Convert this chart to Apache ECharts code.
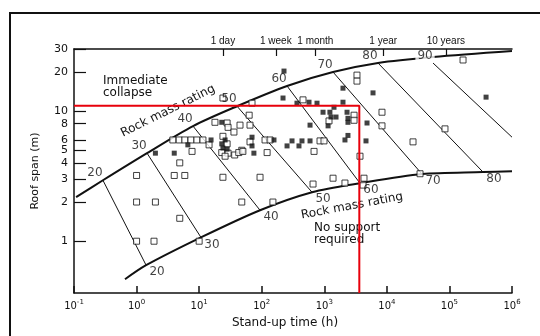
<!DOCTYPE html>
<html>
<head>
<meta charset="utf-8">
<script src="https://cdn.jsdelivr.net/npm/echarts@6/dist/echarts.min.js"></script>
<style>
  html, body { margin: 0; padding: 0; background: #fff; }
  #chart { width: 540px; height: 336px; }
</style>
</head>
<body>
<div id="chart"></div>
<script>
// all points are [stand-up time (h), roof span (m)]
const upperCurve = [[0.108, 2.18], [0.29, 2.94], [1.47, 4.75], [7.98, 7.67], [40.3, 10.9], [254, 15.6], [1380, 19.95], [7220, 23.4], [54700, 26.0], [1e6, 28.9]];
const lowerCurve = [[0.653, 0.51], [1.42, 0.654], [10.7, 1.07], [94, 1.73], [637, 2.38], [3720, 2.79], [36500, 3.28], [344000, 3.4], [1e6, 3.45]];

const ratings = [20, 30, 40, 50, 60, 70, 80, 90];
const ratingTop = [[0.29, 2.94], [1.47, 4.75], [7.98, 7.67], [40.3, 10.9], [254, 15.6], [1380, 19.95], [7220, 23.4], [54700, 23.4]];
const ratingBottom = [[1.42, 0.654], [10.7, 1.07], [94, 1.73], [637, 2.38], [3720, 2.79], [36500, 3.28], [344000, 3.4], [1e6, 6.3]];

const criticalSpan = 11;
const criticalTime = 3630;

const openCases = [
  [1.0, 3.2], [4.0, 3.2], [5.9, 3.2], [24, 3.1], [94, 3.1], [1.0, 2.0], [2.0, 2.0], [48, 2.0], [151, 2.0],
  [4.9, 1.5], [1.0, 1.0], [1.9, 1.0], [10, 1.0], [4.9, 4.0], [661, 2.75], [1380, 3.05], [2140, 2.8],
  [4310, 3.05], [4160, 2.7], [3720, 4.5], [33900, 3.3], [26200, 5.8], [8360, 9.8], [8360, 7.7],
  [84900, 7.3], [165000, 24.7], [3330, 18.9], [3330, 17.0], [457, 12.2], [70, 11.5], [24, 12.6],
  [1190, 8.4], [2990, 9.3], [2990, 8.5], [855, 5.9], [990, 5.9], [113, 6.0], [136, 6.0], [122, 4.8],
  [686, 4.9], [48, 5.0], [63, 9.3], [65, 7.8], [45, 7.8], [17.9, 8.2], [28, 8.1], [29, 7.5], [36, 6.9],
  [24, 6.4], [3.8, 6.0], [4.8, 6.0], [5.9, 6.0], [7.4, 6.0], [9.2, 6.0], [11.5, 6.0], [7.7, 4.9],
  [14.4, 5.5], [28, 5.6], [23, 4.8], [29, 4.75], [26, 4.5], [37, 4.6], [43, 4.8], [50, 4.9], [65, 5.8]
];
const filledCases = [
  [23, 8.2], [15.5, 6.0], [6.6, 5.5], [26, 6.0], [23, 5.6], [24, 5.2], [28, 5.1], [70, 6.3], [70, 5.4],
  [75, 4.75], [2.0, 4.75], [4.0, 4.75], [227, 20.3], [1990, 15.0], [6010, 13.8], [219, 12.6], [366, 11.5],
  [570, 11.7], [765, 11.5], [1990, 11.7], [1430, 10.7], [955, 9.8], [1230, 9.8], [1540, 9.0], [1280, 9.0],
  [592, 7.8], [1150, 7.7], [2310, 9.8], [2390, 8.8], [2390, 8.2], [4820, 8.1], [2390, 6.5], [2140, 6.0],
  [4640, 5.9], [592, 5.9], [440, 5.9], [305, 5.9], [254, 5.4], [394, 5.4], [157, 6.0], [385000, 12.8]
];

const timeTicks = [0.1, 1, 10, 100, 1000, 10000, 100000, 1000000];
const periodHours = [24, 168, 720, 8760, 87600];
const periodNames = ['1 day', '1 week', '1 month', '1 year', '10 years'];
const spanTicks = [1, 2, 3, 4, 5, 6, 8, 10, 20, 30];

const font = 'DejaVu Sans';
const ink = '#111';

function nearest(list, v) {
  let best = 0;
  list.forEach((x, i) => {
    if (Math.abs(Math.log(x / v)) < Math.abs(Math.log(list[best] / v))) best = i;
  });
  return best;
}

const chart = echarts.init(document.getElementById('chart'));

const ratingLines = ratings.map((r, i) => ({
  type: 'line',
  data: [ratingTop[i], ratingBottom[i]],
  symbol: 'none',
  silent: true,
  lineStyle: { color: ink, width: 1 },
  z: 2
}));

const option = {
  animation: false,
  textStyle: { fontFamily: font },
  grid: { left: 74, right: 28, top: 49, bottom: 43 },
  xAxis: [
    {
      type: 'log', logBase: 10, min: 0.1, max: 1e6, position: 'bottom',
      axisLine: { lineStyle: { color: ink, width: 1.5 } },
      axisTick: { inside: true, length: 7, customValues: timeTicks, lineStyle: { color: ink, width: 1.5 } },
      axisLabel: {
        customValues: timeTicks, margin: 6, color: ink, fontSize: 10,
        formatter: v => '10{s|' + Math.round(Math.log10(v)) + '}',
        rich: { s: { fontSize: 7, color: ink, padding: [0, 0, 7, 0] } }
      },
      splitLine: { show: false }
    },
    {
      type: 'log', logBase: 10, min: 0.1, max: 1e6, position: 'top',
      axisLine: { lineStyle: { color: ink, width: 1.5 } },
      axisTick: { inside: true, length: 7, customValues: periodHours, lineStyle: { color: ink, width: 1.2 } },
      axisLabel: {
        customValues: periodHours, margin: 3, color: ink, fontSize: 10, fontFamily: 'Liberation Sans',
        formatter: v => periodNames[nearest(periodHours, v)]
      },
      splitLine: { show: false }
    }
  ],
  yAxis: {
    type: 'log', logBase: 10, min: 0.4, max: 30,
    name: 'Roof span (m)', nameLocation: 'middle', nameGap: 33,
    nameTextStyle: { color: ink, fontSize: 11 },
    axisLine: { lineStyle: { color: ink, width: 1.5 } },
    axisTick: { inside: true, length: 12, customValues: spanTicks, lineStyle: { color: ink, width: 1.2 } },
    axisLabel: { customValues: spanTicks, margin: 6, color: ink, fontSize: 11 },
    splitLine: { show: false }
  },
  series: [
    {
      type: 'line', data: upperCurve, smooth: 0.3, symbol: 'none', silent: true,
      lineStyle: { color: ink, width: 2 }, z: 3
    },
    {
      type: 'line', data: lowerCurve, smooth: 0.3, symbol: 'none', silent: true,
      lineStyle: { color: ink, width: 2 }, z: 3
    },
    ...ratingLines,
    {
      type: 'scatter', symbolSize: 0, silent: true, z: 6,
      data: ratingTop.map((p, i) => ({
        value: p,
        label: i === ratings.length - 1 ? { backgroundColor: '#fff', padding: [0, 2] } : {}
      })),
      label: {
        show: true, color: ink, fontSize: 12, offset: [-8, -7],
        formatter: p => String(ratings[p.dataIndex])
      }
    },
    {
      type: 'scatter', symbolSize: 0, silent: true, z: 6,
      data: ratingBottom.slice(0, 7),
      label: {
        show: true, color: ink, fontSize: 12, offset: [11, 7],
        formatter: p => String(ratings[p.dataIndex])
      }
    },
    {
      type: 'scatter', data: openCases, symbol: 'rect', symbolSize: 6, silent: true, z: 4,
      itemStyle: { color: '#fff', borderColor: ink, borderWidth: 1 }
    },
    {
      type: 'scatter', data: filledCases, symbol: 'rect', symbolSize: 5, silent: true, z: 4,
      itemStyle: { color: ink }
    },
    {
      type: 'line', symbol: 'none', silent: true, z: 8,
      data: [[0.1, criticalSpan], [criticalTime, criticalSpan], [criticalTime, 0.4]],
      lineStyle: { color: '#e8000b', width: 2 }
    }
  ],
  graphic: [
    {
      type: 'rect', shape: { x: 10, y: 13, width: 700, height: 500 },
      style: { fill: null, stroke: ink, lineWidth: 2 }, silent: true
    },
    {
      type: 'text', x: 103, y: 75,
      style: { text: 'Immediate\ncollapse', font: '12px "DejaVu Sans"', fill: ink, lineHeight: 12 }
    },
    {
      type: 'text', x: 168, y: 111, rotation: 0.46,
      style: { text: 'Rock mass rating', font: '12px "DejaVu Sans"', fill: ink, align: 'center', verticalAlign: 'middle' }
    },
    {
      type: 'text', x: 352, y: 206, rotation: 0.185,
      style: { text: 'Rock mass rating', font: '12px "DejaVu Sans"', fill: ink, align: 'center', verticalAlign: 'middle' }
    },
    {
      type: 'text', x: 314, y: 222,
      style: { text: 'No support\nrequired', font: '12px "DejaVu Sans"', fill: ink, lineHeight: 12 }
    },
    {
      type: 'text', x: 285, y: 323,
      style: { text: 'Stand-up time (h)', font: '12px "DejaVu Sans"', fill: ink, align: 'center', verticalAlign: 'middle' }
    }
  ]
};

chart.setOption(option);
</script>
</body>
</html>
